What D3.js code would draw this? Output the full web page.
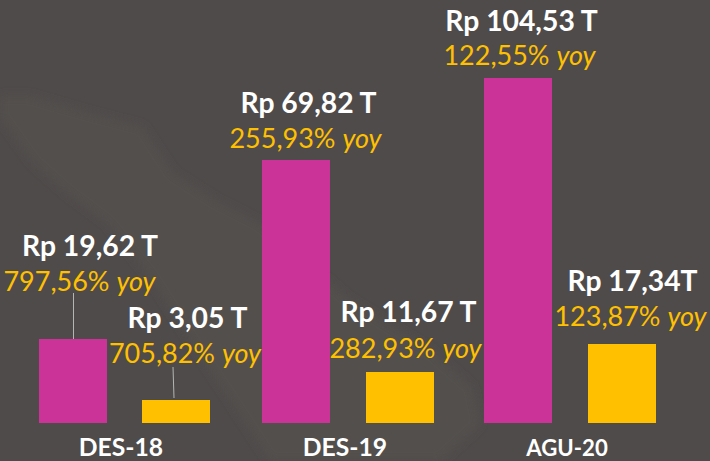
<!DOCTYPE html>
<html><head><meta charset="utf-8">
<script src="https://cdn.jsdelivr.net/npm/d3@7/dist/d3.min.js"></script>
<style>html,body{margin:0;padding:0;background:#4f4b4a}svg{display:block}</style></head>
<body><svg id="c" width="710" height="461"></svg>
<script>
const categories=["DES-18","DES-19","AGU-20"];
const seriesA=[19.62,69.82,104.53];
const seriesB=[3.05,11.67,17.34];
const labelsA=["Rp 19,62 T","Rp 69,82 T","Rp 104,53 T"];
const labelsB=["Rp 3,05 T","Rp 11,67 T","Rp 17,34T"];
const yoyA=["797,56%","255,93%","122,55%"];
const yoyB=["705,82%","282,93%","123,87%"];
const svg=d3.select("#c");
const font="Lato,'Open Sans',sans-serif";
svg.append("rect").attr("width",710).attr("height",461).attr("fill","#4f4b4a");
const defs=svg.append("defs");
defs.append("filter").attr("id","b").append("feGaussianBlur").attr("stdDeviation",4);
svg.append("path").attr("d","M0 96 L30 96 L85 112 L143 127 L173 173 L215 200 L260 223 L350 300 L430 350 L472 387 L480 425 L440 461 L270 461 L230 400 L190 340 L150 277 L107 223 L67 193 L33 163 L0 117 Z").attr("fill","#52504e").attr("filter","url(#b)");
// The source bars are not drawn to a linear scale, so the scale is piecewise.
const y=d3.scaleLinear().domain([0,3.05,11.67,17.34,19.62,69.82,104.53]).range([423,400,372,344,339,160,78]);
const xA=d3.scaleOrdinal().domain(categories).range([39,262,484]);
const xB=d3.scaleOrdinal().domain(categories).range([142,366,588]);
const bw=68;
const catX=[121,345,567];
const catSize=[24.7,24.7,22.2];
categories.forEach((c,i)=>{
 svg.append("rect").attr("x",xA(c)).attr("width",bw).attr("y",y(seriesA[i])).attr("height",423-y(seriesA[i])).attr("fill","#cc3399");
 svg.append("rect").attr("x",xB(c)).attr("width",bw).attr("y",y(seriesB[i])).attr("height",423-y(seriesB[i])).attr("fill","#ffc000");
 svg.append("text").attr("x",catX[i]).attr("y",456).attr("text-anchor","middle").attr("font-family",font).attr("font-weight",700).attr("font-size",catSize[i]).attr("fill","#fff").text(c);
});
const posA=[[90,256,79.5,291],[308.5,113,305.5,148],[521.5,31,519.5,65]];
const posB=[[187.5,328,185,363],[408.5,322,405.5,358],[632.5,291,630.5,326]];
function lab(p,t,yy){
 svg.append("text").attr("x",p[0]).attr("y",p[1]).attr("text-anchor","middle").attr("font-family",font).attr("font-weight",700).attr("font-size",28.3).attr("fill","#fff").text(t);
 const o=svg.append("text").attr("x",p[2]).attr("y",p[3]).attr("text-anchor","middle").attr("font-family",font).attr("font-size",27).attr("fill","#ffc000");
 o.append("tspan").text(yy+" ");
 o.append("tspan").attr("font-style","italic").text("yoy");
}
labelsA.forEach((t,i)=>lab(posA[i],t,yoyA[i]));
labelsB.forEach((t,i)=>lab(posB[i],t,yoyB[i]));
svg.append("line").attr("x1",73.5).attr("x2",73.5).attr("y1",293).attr("y2",339).attr("stroke","#b5b5b5");
svg.append("line").attr("x1",173).attr("x2",174).attr("y1",367).attr("y2",398).attr("stroke","#b5b5b5");
</script></body></html>
